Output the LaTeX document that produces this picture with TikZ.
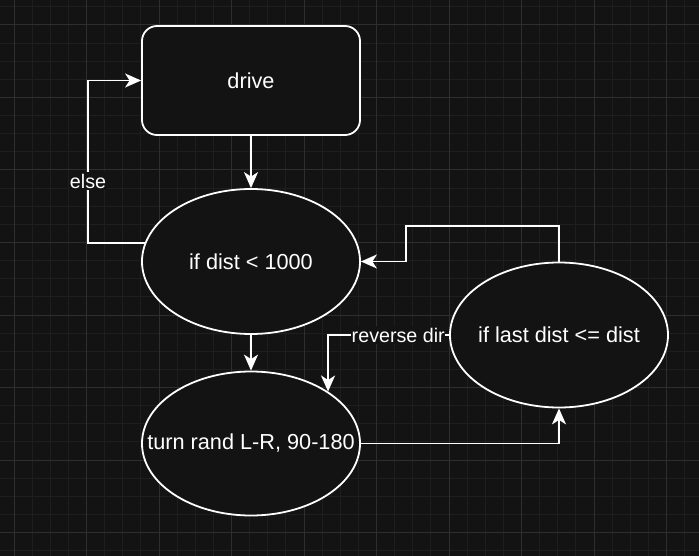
\documentclass[tikz,border=0pt]{standalone}
\usepackage{fontspec}
\setmainfont{Liberation Sans}
\usetikzlibrary{shapes.geometric,arrows.meta}

\definecolor{canvas}{HTML}{131313}
\definecolor{gridminor}{HTML}{1E1E1E}
\definecolor{gridmajor}{HTML}{2E2E2E}

% centred text of zero width, so an ellipse keeps its given size
\newcommand{\zw}[1]{\makebox[0pt][c]{#1}}

\tikzset{
  box/.style={draw=white, line width=1.8pt, fill=canvas, text=white,
    font=\fontsize{21.7}{26}\selectfont, inner sep=0pt},
  roundbox/.style={box, rectangle, rounded corners=15pt,
    minimum width=218pt, minimum height=109pt},
  oval/.style={box, ellipse, minimum width=218pt, minimum height=145pt},
  flow/.style={draw=white, line width=1.8pt,
    -{Stealth[length=16pt, width=14pt, inset=4.5pt]}},
  lbl/.style={fill=canvas, text=white, font=\fontsize{19.7}{22}\selectfont,
    inner xsep=0.5pt, inner ysep=2pt},
}

\begin{document}
\begin{tikzpicture}[x=1pt, y=-1pt]
  % canvas
  \fill[canvas] (0,0) rectangle (699,556);
  \useasboundingbox (0,0) rectangle (699,556);

  % background grid: fine lines, then every fourth line stronger
  \foreach \i in {0,...,38} {
    \draw[gridminor, line width=1pt] (14+\i*18.125, 0) -- (14+\i*18.125, 556);
  }
  \foreach \i in {0,...,30} {
    \draw[gridminor, line width=1pt] (0, 6.875+\i*18.125) -- (699, 6.875+\i*18.125);
  }
  \foreach \i in {0,...,9} {
    \draw[gridmajor, line width=1pt] (14+\i*72.5, 0) -- (14+\i*72.5, 556);
  }
  \foreach \i in {0,...,7} {
    \draw[gridmajor, line width=1pt] (0, 25+\i*72.5) -- (699, 25+\i*72.5);
  }

  % states
  \node[roundbox] (drive) at (251,80.5) {drive};
  \node[oval] (check) at (251,261.5) {\zw{if dist < 1000}};
  \node[oval] (compare) at (559,335) {\zw{if last dist <= dist}};
  \node[oval, minimum height=144pt] (turn) at (251,443.5) {\zw{turn rand L-R, 90-180}};

  % routing helpers
  \coordinate (elsex) at (88,0);
  \coordinate (jog) at (406,226);

  % transitions
  \draw[flow] (drive) -- (check);
  \draw[flow] (check) -- (turn);
  \draw[flow] (check.170) -- (check.170 -| elsex)
    -- node[lbl, pos=0.38] (elselbl) {else} (drive.west -| elsex) -- (drive.west);
  \draw[flow] (turn.east) -| (compare.south);
  \draw[flow] (compare.north) |- (jog) |- (check.east);
  \draw[flow] (compare.west) -| node[lbl, pos=0.21] (revlbl) {reverse dir} (turn.34);
\end{tikzpicture}
\end{document}
